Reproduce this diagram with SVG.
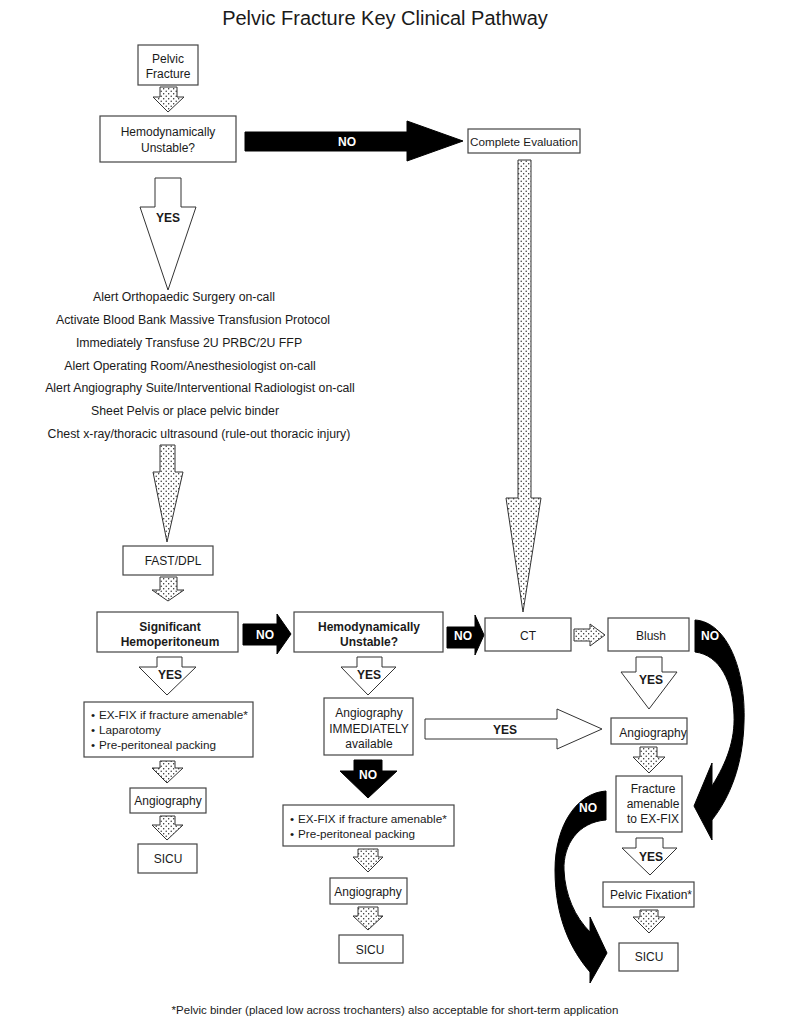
<svg xmlns="http://www.w3.org/2000/svg" width="785" height="1024" viewBox="0 0 785 1024">
<defs>
<pattern id="dots" width="5" height="5" patternUnits="userSpaceOnUse">
<rect width="5" height="5" fill="#fff"/>
<circle cx="1.2" cy="1.2" r="0.7" fill="#222"/>
<circle cx="3.7" cy="3.7" r="0.7" fill="#222"/>
</pattern>
<style>
.box{fill:#fff;stroke:#444;stroke-width:1.2}
.t{font-family:"Liberation Sans",Arial,sans-serif;font-size:12px;fill:#1a1a1a;text-anchor:middle}
.b{font-weight:bold}
.l{text-anchor:start;font-size:11.7px}
.dot{fill:url(#dots);stroke:#333;stroke-width:1}
.wa{fill:#fff;stroke:#333;stroke-width:1}
.ba{fill:#000;stroke:#000;stroke-width:1}
.wt{fill:#fff;font-weight:bold}
.list{font-family:"Liberation Sans",Arial,sans-serif;font-size:12.3px;fill:#1a1a1a;text-anchor:middle}
</style>
</defs>
<rect width="785" height="1024" fill="#fff"/>
<text x="385" y="25" class="t" style="font-size:20px">Pelvic Fracture Key Clinical Pathway</text>

<g id="connectors">
<polygon class="dot" points="160,87 177,87 177,97 184,97 168,112 153,97 160,97"/>
<polygon class="dot" points="160,445 175,445 175,472 183,472 167,542 153,472 160,472"/>
<polygon class="dot" points="160,577 177,577 177,590 184,590 168,601 152,590 160,590"/>
<polygon class="dot" points="518,160 531,160 531,498 541,498 523,612 506,498 518,498"/>
<polygon class="dot" points="574,629 590,629 590,624 605,635 590,646 590,641 574,641"/>
<polygon class="dot" points="640,747 657,747 657,757 665,757 649,773 633,757 640,757"/>
<polygon class="dot" points="640,910 658,910 658,917 665,917 649,933 633,917 640,917"/>
<polygon class="dot" points="358,849 378,849 378,857 383,857 368,872 353,857 358,857"/>
<polygon class="dot" points="358,907 378,907 378,916 383,916 368,930 353,916 358,916"/>
<polygon class="dot" points="160,761 175,761 175,768 183,768 167,783 152,768 160,768"/>
<polygon class="dot" points="160,816 175,816 175,825 183,825 167,840 152,825 160,825"/>
<polygon class="wa" points="155,178 181,178 181,207 196,207 168,290 140,207 155,207"/>
<text x="168" y="222" class="t b">YES</text>
<polygon class="wa" points="157,657 182,657 182,667 196,667 167,695 139,667 157,667"/>
<text x="170" y="679" class="t b">YES</text>
<polygon class="wa" points="357,657 382,657 382,667 396,667 368,695 341,667 357,667"/>
<text x="369" y="679" class="t b">YES</text>
<polygon class="wa" points="636,657 662,657 662,672 677,672 649,709 621,672 636,672"/>
<text x="651" y="684" class="t b">YES</text>
<polygon class="wa" points="636,838 663,838 663,848 677,848 650,875 622,848 636,848"/>
<text x="651" y="861" class="t b">YES</text>
<polygon class="wa" points="425,719 557,719 557,709 602,729 557,749 557,739 425,739"/>
<text x="505" y="734" class="t b">YES</text>
<polygon class="ba" points="245,132 407,132 407,121 463,141 407,161 407,151 245,151"/>
<text x="347" y="146" class="t wt">NO</text>
<polygon class="ba" points="243,624 277,624 277,614 291,634 277,654 277,645 243,645"/>
<text x="265" y="639" class="t wt">NO</text>
<polygon class="ba" points="447,627 475,627 475,615 484,635 475,655 475,648 447,648"/>
<text x="463" y="640" class="t wt">NO</text>
<polygon class="ba" points="354,760 382,760 382,771 397,771 368,798 340,771 354,771"/>
<text x="368" y="779" class="t wt">NO</text>
<path class="ba" d="M695,620 C727,622 746,670 744,722 C743,765 730,797 712,820 L712,840 L694,806 L712,763 L712,786 C727,762 735,740 734,715 C733,682 720,655 695,652 Z"/>
<text x="710" y="640" class="t wt">NO</text>
<path class="ba" d="M606,791 C577,793 555,825 555,870 C555,918 571,950 590,972 L590,983 L607,953 L590,917 L590,932 C575,917 565,895 564,870 C563,845 578,822 606,820 Z"/>
<text x="588" y="812" class="t wt">NO</text>
</g>

<g id="pelvic-fracture">
<rect class="box" x="138" y="45" width="60" height="40"/>
<text x="168" y="63" class="t">Pelvic</text>
<text x="168" y="78" class="t">Fracture</text>
</g>
<g id="hemo-unstable-1">
<rect class="box" x="100" y="116" width="136" height="46"/>
<text x="168" y="136" class="t">Hemodynamically</text>
<text x="168" y="152" class="t">Unstable?</text>
</g>
<g id="complete-evaluation">
<rect class="box" x="468" y="129" width="112" height="24"/>
<text x="524" y="146" class="t" style="font-size:11.7px">Complete Evaluation</text>
</g>
<g id="actions">
<text x="184" y="301" class="list">Alert Orthopaedic Surgery on-call</text>
<text x="193" y="324" class="list">Activate Blood Bank Massive Transfusion Protocol</text>
<text x="189" y="347" class="list">Immediately Transfuse 2U PRBC/2U FFP</text>
<text x="190" y="370" class="list">Alert Operating Room/Anesthesiologist on-call</text>
<text x="200" y="392" class="list">Alert Angiography Suite/Interventional Radiologist on-call</text>
<text x="185" y="415" class="list">Sheet Pelvis or place pelvic binder</text>
<text x="199" y="438" class="list">Chest x-ray/thoracic ultrasound (rule-out thoracic injury)</text>
</g>
<g id="fast-dpl">
<rect class="box" x="123" y="546" width="90" height="29"/>
<text x="173" y="565" class="t">FAST/DPL</text>
</g>
<g id="significant-hemoperitoneum">
<rect class="box" x="97" y="612" width="141" height="40"/>
<text x="170" y="631" class="t b">Significant</text>
<text x="170" y="646" class="t b">Hemoperitoneum</text>
</g>
<g id="hemo-unstable-2">
<rect class="box" x="294" y="612" width="149" height="40"/>
<text x="369" y="631" class="t b">Hemodynamically</text>
<text x="369" y="646" class="t b">Unstable?</text>
</g>
<g id="ct">
<rect class="box" x="485" y="618" width="86" height="33"/>
<text x="528" y="640" class="t">CT</text>
</g>
<g id="blush">
<rect class="box" x="608" y="618" width="81" height="33"/>
<text x="651" y="640" class="t">Blush</text>
</g>
<g id="left-treatment">
<rect class="box" x="84" y="702" width="169" height="55"/>
<text x="91" y="719" class="t l">•</text><text x="99" y="719" class="t l">EX-FIX if fracture amenable*</text>
<text x="91" y="734" class="t l">•</text><text x="99" y="734" class="t l">Laparotomy</text>
<text x="91" y="749" class="t l">•</text><text x="99" y="749" class="t l">Pre-peritoneal packing</text>
</g>
<g id="angio-immediately">
<rect class="box" x="324" y="698" width="89" height="57"/>
<text x="369" y="717" class="t">Angiography</text>
<text x="369" y="733" class="t">IMMEDIATELY</text>
<text x="369" y="748" class="t">available</text>
</g>
<g id="angiography-right">
<rect class="box" x="611" y="718" width="76" height="26"/>
<text x="653" y="737" class="t">Angiography</text>
</g>
<g id="angiography-left">
<rect class="box" x="130" y="788" width="76" height="25"/>
<text x="168" y="805" class="t">Angiography</text>
</g>
<g id="sicu-left">
<rect class="box" x="138" y="844" width="59" height="29"/>
<text x="168" y="863" class="t">SICU</text>
</g>
<g id="fracture-amenable">
<rect class="box" x="616" y="776" width="66" height="56"/>
<text x="653" y="793" class="t">Fracture</text>
<text x="653" y="808" class="t">amenable</text>
<text x="653" y="823" class="t">to EX-FIX</text>
</g>
<g id="middle-treatment">
<rect class="box" x="283" y="805" width="171" height="41"/>
<text x="290" y="823" class="t l">•</text><text x="298" y="823" class="t l">EX-FIX if fracture amenable*</text>
<text x="290" y="838" class="t l">•</text><text x="298" y="838" class="t l">Pre-peritoneal packing</text>
</g>
<g id="angiography-middle">
<rect class="box" x="330" y="878" width="77" height="26"/>
<text x="368" y="896" class="t">Angiography</text>
</g>
<g id="sicu-middle">
<rect class="box" x="339" y="935" width="64" height="28"/>
<text x="370" y="954" class="t">SICU</text>
</g>
<g id="pelvic-fixation">
<rect class="box" x="603" y="882" width="91" height="25"/>
<text x="651" y="899" class="t">Pelvic Fixation*</text>
</g>
<g id="sicu-right">
<rect class="box" x="619" y="943" width="59" height="28"/>
<text x="649" y="961" class="t">SICU</text>
</g>
<text x="395" y="1014" class="t" style="font-size:11.5px">*Pelvic binder (placed low across trochanters) also acceptable for short-term application</text>
</svg>
